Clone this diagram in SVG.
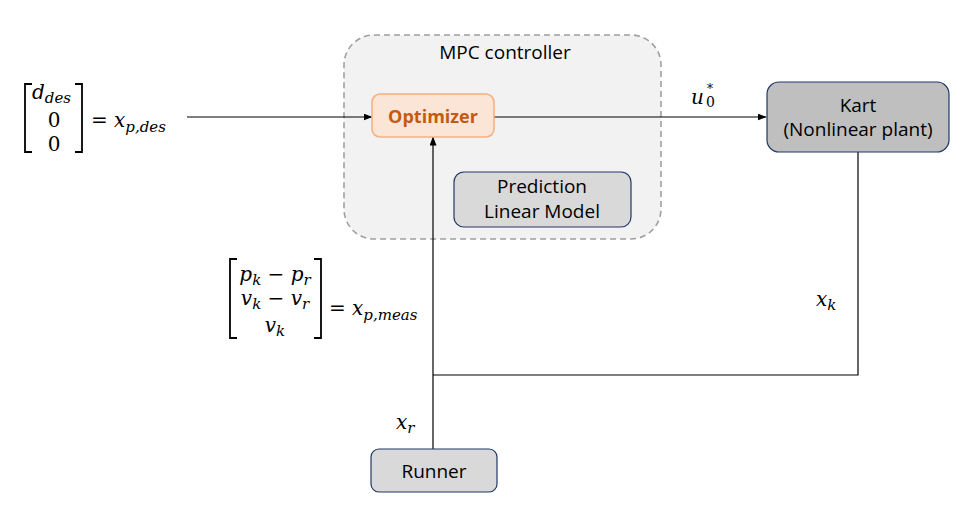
<svg xmlns="http://www.w3.org/2000/svg" width="979" height="520" viewBox="0 0 979 520">
<defs>
<marker id="arr" markerWidth="9" markerHeight="7" refX="8.5" refY="3.5" orient="auto" markerUnits="userSpaceOnUse">
<path d="M0,0 L9,3.5 L0,7 Z" fill="#000"/>
</marker>
<style>
.lbl{font-family:"Open Sans","Liberation Sans",sans-serif;font-size:19px;fill:#000;text-anchor:middle}
.m{font-family:"DejaVu Serif","Liberation Serif",serif;font-style:italic;font-size:20px;fill:#000}
.mu{font-family:"DejaVu Serif","Liberation Serif",serif;font-style:normal;font-size:20px;fill:#000}
.sub{font-size:15px}
.br{fill:none;stroke:#000;stroke-width:1.8}
.wire{fill:none;stroke:#000;stroke-width:1.2}
</style>
</defs>
<rect width="979" height="520" fill="#fff"/>

<g id="mpc">
<rect x="344" y="35" width="317" height="204" rx="30" fill="#f2f2f2" stroke="#a0a0a0" stroke-width="1.6" stroke-dasharray="6,4"/>
<text class="lbl" x="505" y="59">MPC controller</text>
</g>

<g id="connectors">
<path class="wire" d="M187,117 H372" marker-end="url(#arr)"/>
<path class="wire" d="M494,117 H766" marker-end="url(#arr)"/>
<path class="wire" d="M858,152 V375 H433"/>
<path class="wire" d="M433,449 V137" marker-end="url(#arr)"/>
</g>

<g id="optimizer">
<rect x="372" y="94" width="122" height="43" rx="8" fill="#fbe5d6" stroke="#f4b183" stroke-width="1.6"/>
<text class="lbl" x="433" y="123" style="font-weight:bold;font-size:18px;fill:#c55a11">Optimizer</text>
</g>

<g id="prediction">
<rect x="454" y="172" width="177" height="55" rx="10" fill="#d9d9d9" stroke="#203864" stroke-width="1.2"/>
<text class="lbl" x="542" y="193">Prediction</text>
<text class="lbl" x="542" y="218">Linear Model</text>
</g>

<g id="kart">
<rect x="767" y="82" width="182" height="70" rx="12" fill="#bfbfbf" stroke="#203864" stroke-width="1.2"/>
<text class="lbl" x="858" y="112">Kart</text>
<text class="lbl" x="858" y="136">(Nonlinear plant)</text>
</g>

<g id="runner">
<rect x="371" y="449" width="126" height="43" rx="8" fill="#d9d9d9" stroke="#203864" stroke-width="1.2"/>
<text class="lbl" x="434" y="478">Runner</text>
</g>

<g id="xpdes">
<path class="br" d="M32,84 H25 V152 H32"/>
<path class="br" d="M75,84 H82 V152 H75"/>
<text class="m" x="32" y="99">d<tspan class="sub" dy="4">des</tspan></text>
<text class="mu" x="54" y="127" text-anchor="middle">0</text>
<text class="mu" x="54" y="151" text-anchor="middle">0</text>
<text class="mu" x="91" y="127">=</text>
<text class="m" x="114" y="127">x<tspan class="sub" dy="5">p,des</tspan></text>
</g>

<g id="xpmeas">
<path class="br" d="M237,259 H230 V338 H237"/>
<path class="br" d="M314,259 H321 V338 H314"/>
<text class="m" x="275" y="281" text-anchor="middle">p<tspan class="sub" dy="4">k</tspan><tspan class="mu" dy="-4"> − </tspan>p<tspan class="sub" dy="4">r</tspan></text>
<text class="m" x="275" y="305" text-anchor="middle">v<tspan class="sub" dy="4">k</tspan><tspan class="mu" dy="-4"> − </tspan>v<tspan class="sub" dy="4">r</tspan></text>
<text class="m" x="275" y="332" text-anchor="middle">v<tspan class="sub" dy="4">k</tspan></text>
<text class="mu" x="329" y="315">=</text>
<text class="m" x="352" y="315">x<tspan class="sub" dy="5">p,meas</tspan></text>
</g>

<g id="u0">
<text class="m" x="691" y="104">u</text>
<text class="mu" x="706" y="107" style="font-size:14px">0</text>
<text class="mu" x="707" y="93" style="font-size:12px">*</text>
</g>
<text class="m" x="816" y="306">x<tspan class="sub" dy="4">k</tspan></text>
<text class="m" x="396" y="429">x<tspan class="sub" dy="4">r</tspan></text>
</svg>
